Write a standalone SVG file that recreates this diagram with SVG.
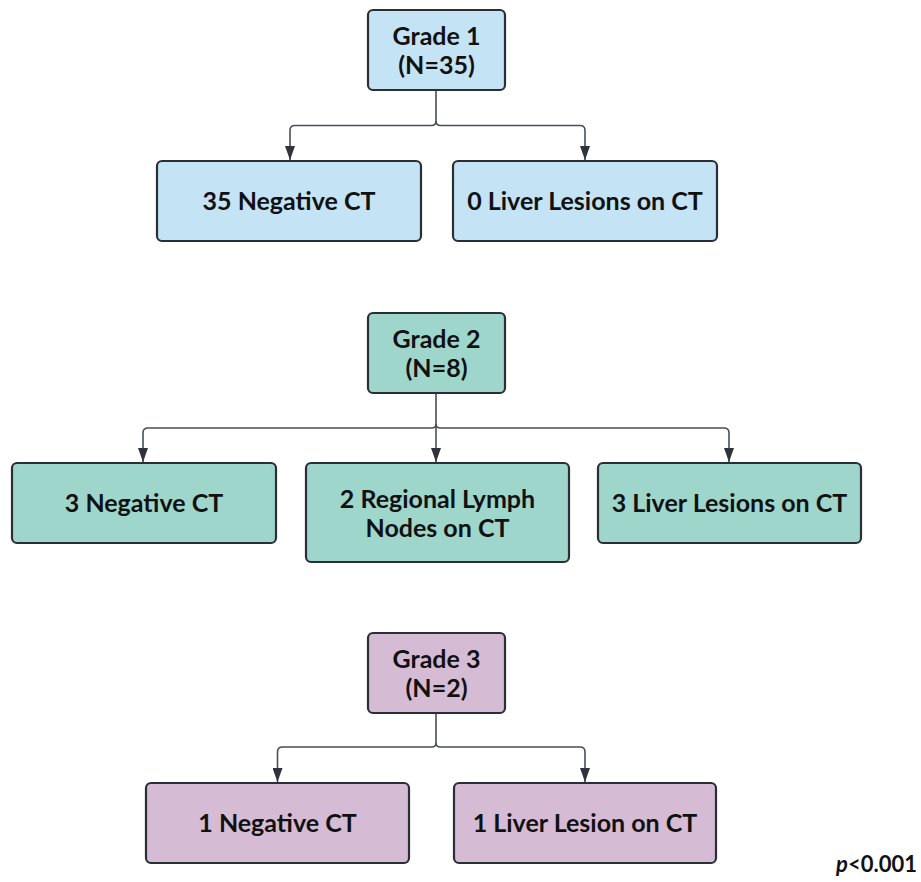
<svg xmlns="http://www.w3.org/2000/svg" width="921" height="882" viewBox="0 0 921 882">
<defs>
<style>
.box{stroke:#2a2e35;stroke-width:2.2}
.g1{fill:#c4e3f5}
.g2{fill:#9fd6cc}
.g3{fill:#d5bcd4}
.t{font-family:Lato,"Noto Sans","Liberation Sans",sans-serif;font-weight:700;font-size:25px;fill:#111;text-anchor:middle}
.c{fill:none;stroke:#4a4f57;stroke-width:1.6}
</style>
<marker id="ah" viewBox="0 0 14 10" refX="14" refY="5" markerWidth="14" markerHeight="10" markerUnits="userSpaceOnUse" orient="auto">
<path d="M0,0 L14,5 L0,10 Z" fill="#2f343c"/>
</marker>
</defs>
<rect width="921" height="882" fill="#ffffff"/>
<g id="connectors">
<path class="c" d="M436,90 V121 Q436,125.5 431.5,125.5 H295 Q290,125.5 290,130.5 V160" marker-end="url(#ah)"/>
<path class="c" d="M436,121 Q436,125.5 440.5,125.5 H580 Q585,125.5 585,130.5 V160" marker-end="url(#ah)"/>
<path class="c" d="M436,393 V424 Q436,428 431.5,428 H148 Q143,428 143,433 V462" marker-end="url(#ah)"/>
<path class="c" d="M436,424 V462" marker-end="url(#ah)"/>
<path class="c" d="M436,424 Q436,428 440.5,428 H724 Q729,428 729,433 V462" marker-end="url(#ah)"/>
<path class="c" d="M436,713 V743 Q436,747 431.5,747 H282.5 Q277.5,747 277.5,752 V782" marker-end="url(#ah)"/>
<path class="c" d="M436,743 Q436,747 440.5,747 H580 Q585,747 585,752 V782" marker-end="url(#ah)"/>
</g>
<g id="grade1">
<rect class="box g1" x="368" y="10" width="137" height="80" rx="5"/>
<text class="t" x="436.5" y="45">Grade 1</text>
<text class="t" x="436.5" y="74">(N=35)</text>
</g>
<g id="g1neg">
<rect class="box g1" x="157" y="161" width="264" height="80" rx="5"/>
<text class="t" x="289" y="210">35 Negative CT</text>
</g>
<g id="g1liver">
<rect class="box g1" x="453" y="161" width="264" height="80" rx="5"/>
<text class="t" x="585" y="210">0 Liver Lesions on CT</text>
</g>
<g id="grade2">
<rect class="box g2" x="368" y="313" width="137" height="80" rx="5"/>
<text class="t" x="436.5" y="348">Grade 2</text>
<text class="t" x="436.5" y="377">(N=8)</text>
</g>
<g id="g2neg">
<rect class="box g2" x="12" y="463" width="264" height="80" rx="5"/>
<text class="t" x="144" y="512">3 Negative CT</text>
</g>
<g id="g2lymph">
<rect class="box g2" x="306" y="463" width="263" height="99" rx="5"/>
<text class="t" x="437.5" y="508">2 Regional Lymph</text>
<text class="t" x="437.5" y="537">Nodes on CT</text>
</g>
<g id="g2liver">
<rect class="box g2" x="598" y="463" width="263" height="80" rx="5"/>
<text class="t" x="729.5" y="512">3 Liver Lesions on CT</text>
</g>
<g id="grade3">
<rect class="box g3" x="368" y="633" width="137" height="80" rx="5"/>
<text class="t" x="436.5" y="668">Grade 3</text>
<text class="t" x="436.5" y="697">(N=2)</text>
</g>
<g id="g3neg">
<rect class="box g3" x="146" y="783" width="263" height="80" rx="5"/>
<text class="t" x="277.5" y="832">1 Negative CT</text>
</g>
<g id="g3liver">
<rect class="box g3" x="454" y="783" width="262" height="80" rx="5"/>
<text class="t" x="585" y="832">1 Liver Lesion on CT</text>
</g>
<text x="917" y="872" style="font-family:Lato,'Noto Sans','Liberation Sans',sans-serif;font-weight:700;font-size:22px;fill:#111;text-anchor:end"><tspan font-style="italic">p</tspan>&lt;0.001</text>
</svg>
